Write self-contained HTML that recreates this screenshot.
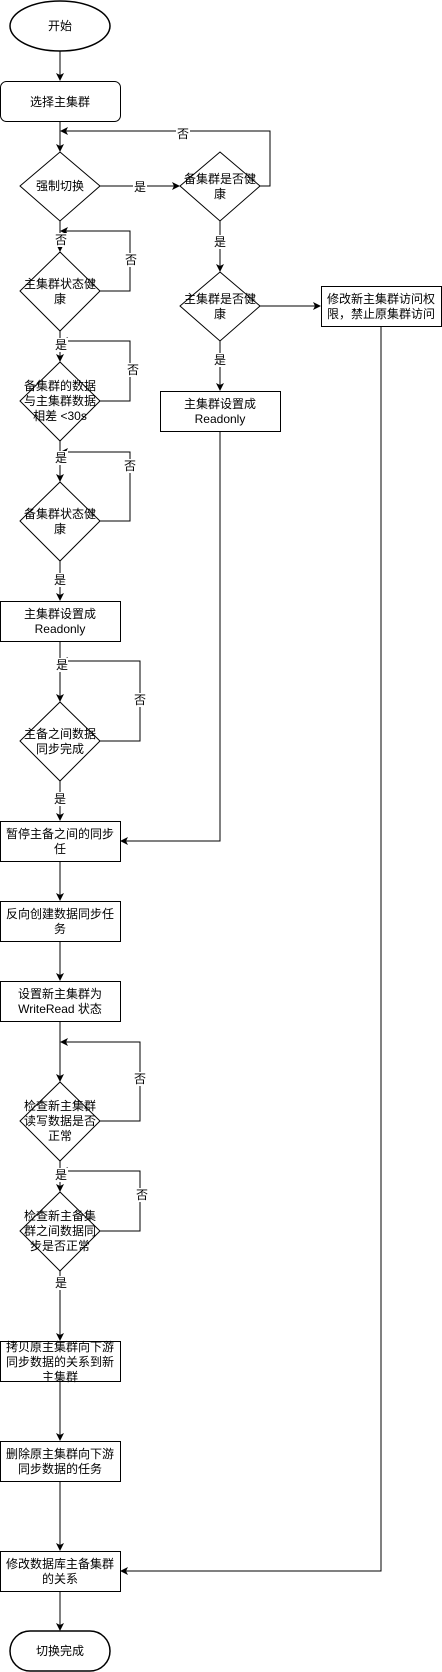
<!DOCTYPE html>
<html><head><meta charset="utf-8"><style>
html,body{margin:0;padding:0;background:#fff;}
svg{display:block;}
text{font-family:"Liberation Sans","Noto Sans CJK SC",sans-serif;font-size:12px;fill:#000;}
</style></head><body>
<svg width="442" height="1672" viewBox="0 0 442 1672" xmlns="http://www.w3.org/2000/svg">
<defs>
<marker id="a" markerWidth="8" markerHeight="8" refX="7" refY="4" orient="auto" markerUnits="userSpaceOnUse">
<path d="M0,0 L8,4 L0,8 L2,4 Z" fill="#000"/>
</marker>
</defs>
<g fill="none" stroke="#000" stroke-width="1">
<!-- shapes -->
<ellipse cx="60" cy="26" rx="50" ry="25" stroke-width="1.5"/>
<rect x="0.5" y="81.5" width="120" height="40" rx="6"/>
<polygon points="60,152 100,186 60,221 20,186"/>
<polygon points="220,152 260,186 220,221 180,186"/>
<polygon points="220,272 260,306 220,341 180,306"/>
<rect x="321.5" y="286.5" width="120" height="40"/>
<rect x="160.5" y="391.5" width="120" height="40"/>
<polygon points="60,252 100,291 60,331 20,291"/>
<polygon points="60,362 100,401 60,441 20,401"/>
<polygon points="60,482 100,521 60,561 20,521"/>
<rect x="0.5" y="601.5" width="120" height="40"/>
<polygon points="60,702 100,741 60,781 20,741"/>
<rect x="0.5" y="821.5" width="120" height="40"/>
<rect x="0.5" y="901.5" width="120" height="40"/>
<rect x="0.5" y="981.5" width="120" height="40"/>
<polygon points="60,1082 100,1121 60,1161 20,1121"/>
<polygon points="60,1192 100,1231 60,1271 20,1231"/>
<rect x="0.5" y="1341.5" width="120" height="40"/>
<rect x="0.5" y="1441.5" width="120" height="40"/>
<rect x="0.5" y="1551.5" width="120" height="40"/>
<rect x="10" y="1631" width="100" height="40" rx="20" ry="20" stroke-width="1.5"/>
<!-- edges -->
<line x1="60" y1="51" x2="60" y2="80" marker-end="url(#a)"/>
<line x1="60" y1="122" x2="60" y2="151" marker-end="url(#a)"/>
<polyline points="260,186 270,186 270,131 61,131" marker-end="url(#a)"/>
<line x1="100" y1="186" x2="179" y2="186" marker-end="url(#a)"/>
<line x1="220" y1="221" x2="220" y2="271" marker-end="url(#a)"/>
<line x1="260" y1="306" x2="320" y2="306" marker-end="url(#a)"/>
<line x1="220" y1="341" x2="220" y2="390" marker-end="url(#a)"/>
<polyline points="220,432 220,841 121,841" marker-end="url(#a)"/>
<polyline points="381,327 381,1571 121,1571" marker-end="url(#a)"/>
<line x1="60" y1="221" x2="60" y2="251" marker-end="url(#a)"/>
<polyline points="100,291 130,291 130,231 61,231" marker-end="url(#a)"/>
<line x1="60" y1="331" x2="60" y2="361" marker-end="url(#a)"/>
<polyline points="100,401 130,401 130,341 61,341" marker-end="url(#a)"/>
<line x1="60" y1="441" x2="60" y2="481" marker-end="url(#a)"/>
<polyline points="100,521 130,521 130,452 61,452" marker-end="url(#a)"/>
<line x1="60" y1="561" x2="60" y2="600" marker-end="url(#a)"/>
<line x1="60" y1="642" x2="60" y2="701" marker-end="url(#a)"/>
<polyline points="100,741 140,741 140,661 61,661" marker-end="url(#a)"/>
<line x1="60" y1="781" x2="60" y2="820" marker-end="url(#a)"/>
<line x1="60" y1="862" x2="60" y2="900" marker-end="url(#a)"/>
<line x1="60" y1="942" x2="60" y2="980" marker-end="url(#a)"/>
<line x1="60" y1="1022" x2="60" y2="1081" marker-end="url(#a)"/>
<polyline points="100,1121 140,1121 140,1042 61,1042" marker-end="url(#a)"/>
<line x1="60" y1="1161" x2="60" y2="1191" marker-end="url(#a)"/>
<polyline points="100,1231 140,1231 140,1171 61,1171" marker-end="url(#a)"/>
<line x1="60" y1="1271" x2="60" y2="1340" marker-end="url(#a)"/>
<line x1="60" y1="1382" x2="60" y2="1440" marker-end="url(#a)"/>
<line x1="60" y1="1482" x2="60" y2="1550" marker-end="url(#a)"/>
<line x1="60" y1="1592" x2="60" y2="1630" marker-end="url(#a)"/>
</g>
<!-- edge label backgrounds -->
<g fill="#fff">
<rect x="176" y="127" width="14" height="14"/>
<rect x="133" y="180" width="14" height="14"/>
<rect x="213" y="235" width="14" height="14"/>
<rect x="213" y="353" width="14" height="14"/>
<rect x="54" y="233" width="14" height="14"/>
<rect x="124" y="253" width="14" height="14"/>
<rect x="54" y="338" width="14" height="14"/>
<rect x="126" y="363" width="14" height="14"/>
<rect x="54" y="451" width="14" height="14"/>
<rect x="123" y="459" width="14" height="14"/>
<rect x="54" y="573" width="14" height="14"/>
<rect x="54" y="658" width="14" height="14"/>
<rect x="133" y="693" width="14" height="14"/>
<rect x="54" y="792" width="14" height="14"/>
<rect x="133" y="1072" width="14" height="14"/>
<rect x="54" y="1168" width="14" height="14"/>
<rect x="135" y="1188" width="14" height="14"/>
<rect x="54" y="1276" width="14" height="14"/>
</g>
<g text-anchor="middle">
<text x="60" y="30">开始</text>
<text x="60" y="106">选择主集群</text>
<text x="60" y="190">强制切换</text>
<text x="220" y="183">备集群是否健</text><text x="220" y="198">康</text>
<text x="220" y="303">主集群是否健</text><text x="220" y="318">康</text>
<text x="381" y="303">修改新主集群访问权</text><text x="381" y="318">限，禁止原集群访问</text>
<text x="220" y="408">主集群设置成</text><text x="220" y="423">Readonly</text>
<text x="60" y="288">主集群状态健</text><text x="60" y="303">康</text>
<text x="60" y="390">备集群的数据</text><text x="60" y="405">与主集群数据</text><text x="60" y="420">相差 &lt;30s</text>
<text x="60" y="518">备集群状态健</text><text x="60" y="533">康</text>
<text x="60" y="618">主集群设置成</text><text x="60" y="633">Readonly</text>
<text x="60" y="738">主备之间数据</text><text x="60" y="753">同步完成</text>
<text x="60" y="838">暂停主备之间的同步</text><text x="60" y="853">任</text>
<text x="60" y="918">反向创建数据同步任</text><text x="60" y="933">务</text>
<text x="60" y="998">设置新主集群为</text><text x="60" y="1013">WriteRead 状态</text>
<text x="60" y="1110">检查新主集群</text><text x="60" y="1125">读写数据是否</text><text x="60" y="1140">正常</text>
<text x="60" y="1220">检查新主备集</text><text x="60" y="1235">群之间数据同</text><text x="60" y="1250">步是否正常</text>
<text x="60" y="1351">拷贝原主集群向下游</text><text x="60" y="1366">同步数据的关系到新</text><text x="60" y="1381">主集群</text>
<text x="60" y="1458">删除原主集群向下游</text><text x="60" y="1473">同步数据的任务</text>
<text x="60" y="1568">修改数据库主备集群</text><text x="60" y="1583">的关系</text>
<text x="60" y="1655">切换完成</text>
<!-- edge labels -->
<text x="183" y="138">否</text>
<text x="140" y="191">是</text>
<text x="220" y="246">是</text>
<text x="220" y="364">是</text>
<text x="61" y="244">否</text>
<text x="131" y="264">否</text>
<text x="61" y="349">是</text>
<text x="133" y="374">否</text>
<text x="61" y="462">是</text>
<text x="130" y="470">否</text>
<text x="60" y="584">是</text>
<text x="62" y="669">是</text>
<text x="140" y="704">否</text>
<text x="60" y="803">是</text>
<text x="140" y="1083">否</text>
<text x="61" y="1179">是</text>
<text x="142" y="1199">否</text>
<text x="61" y="1287">是</text>
</g>
</svg>
</body></html>
